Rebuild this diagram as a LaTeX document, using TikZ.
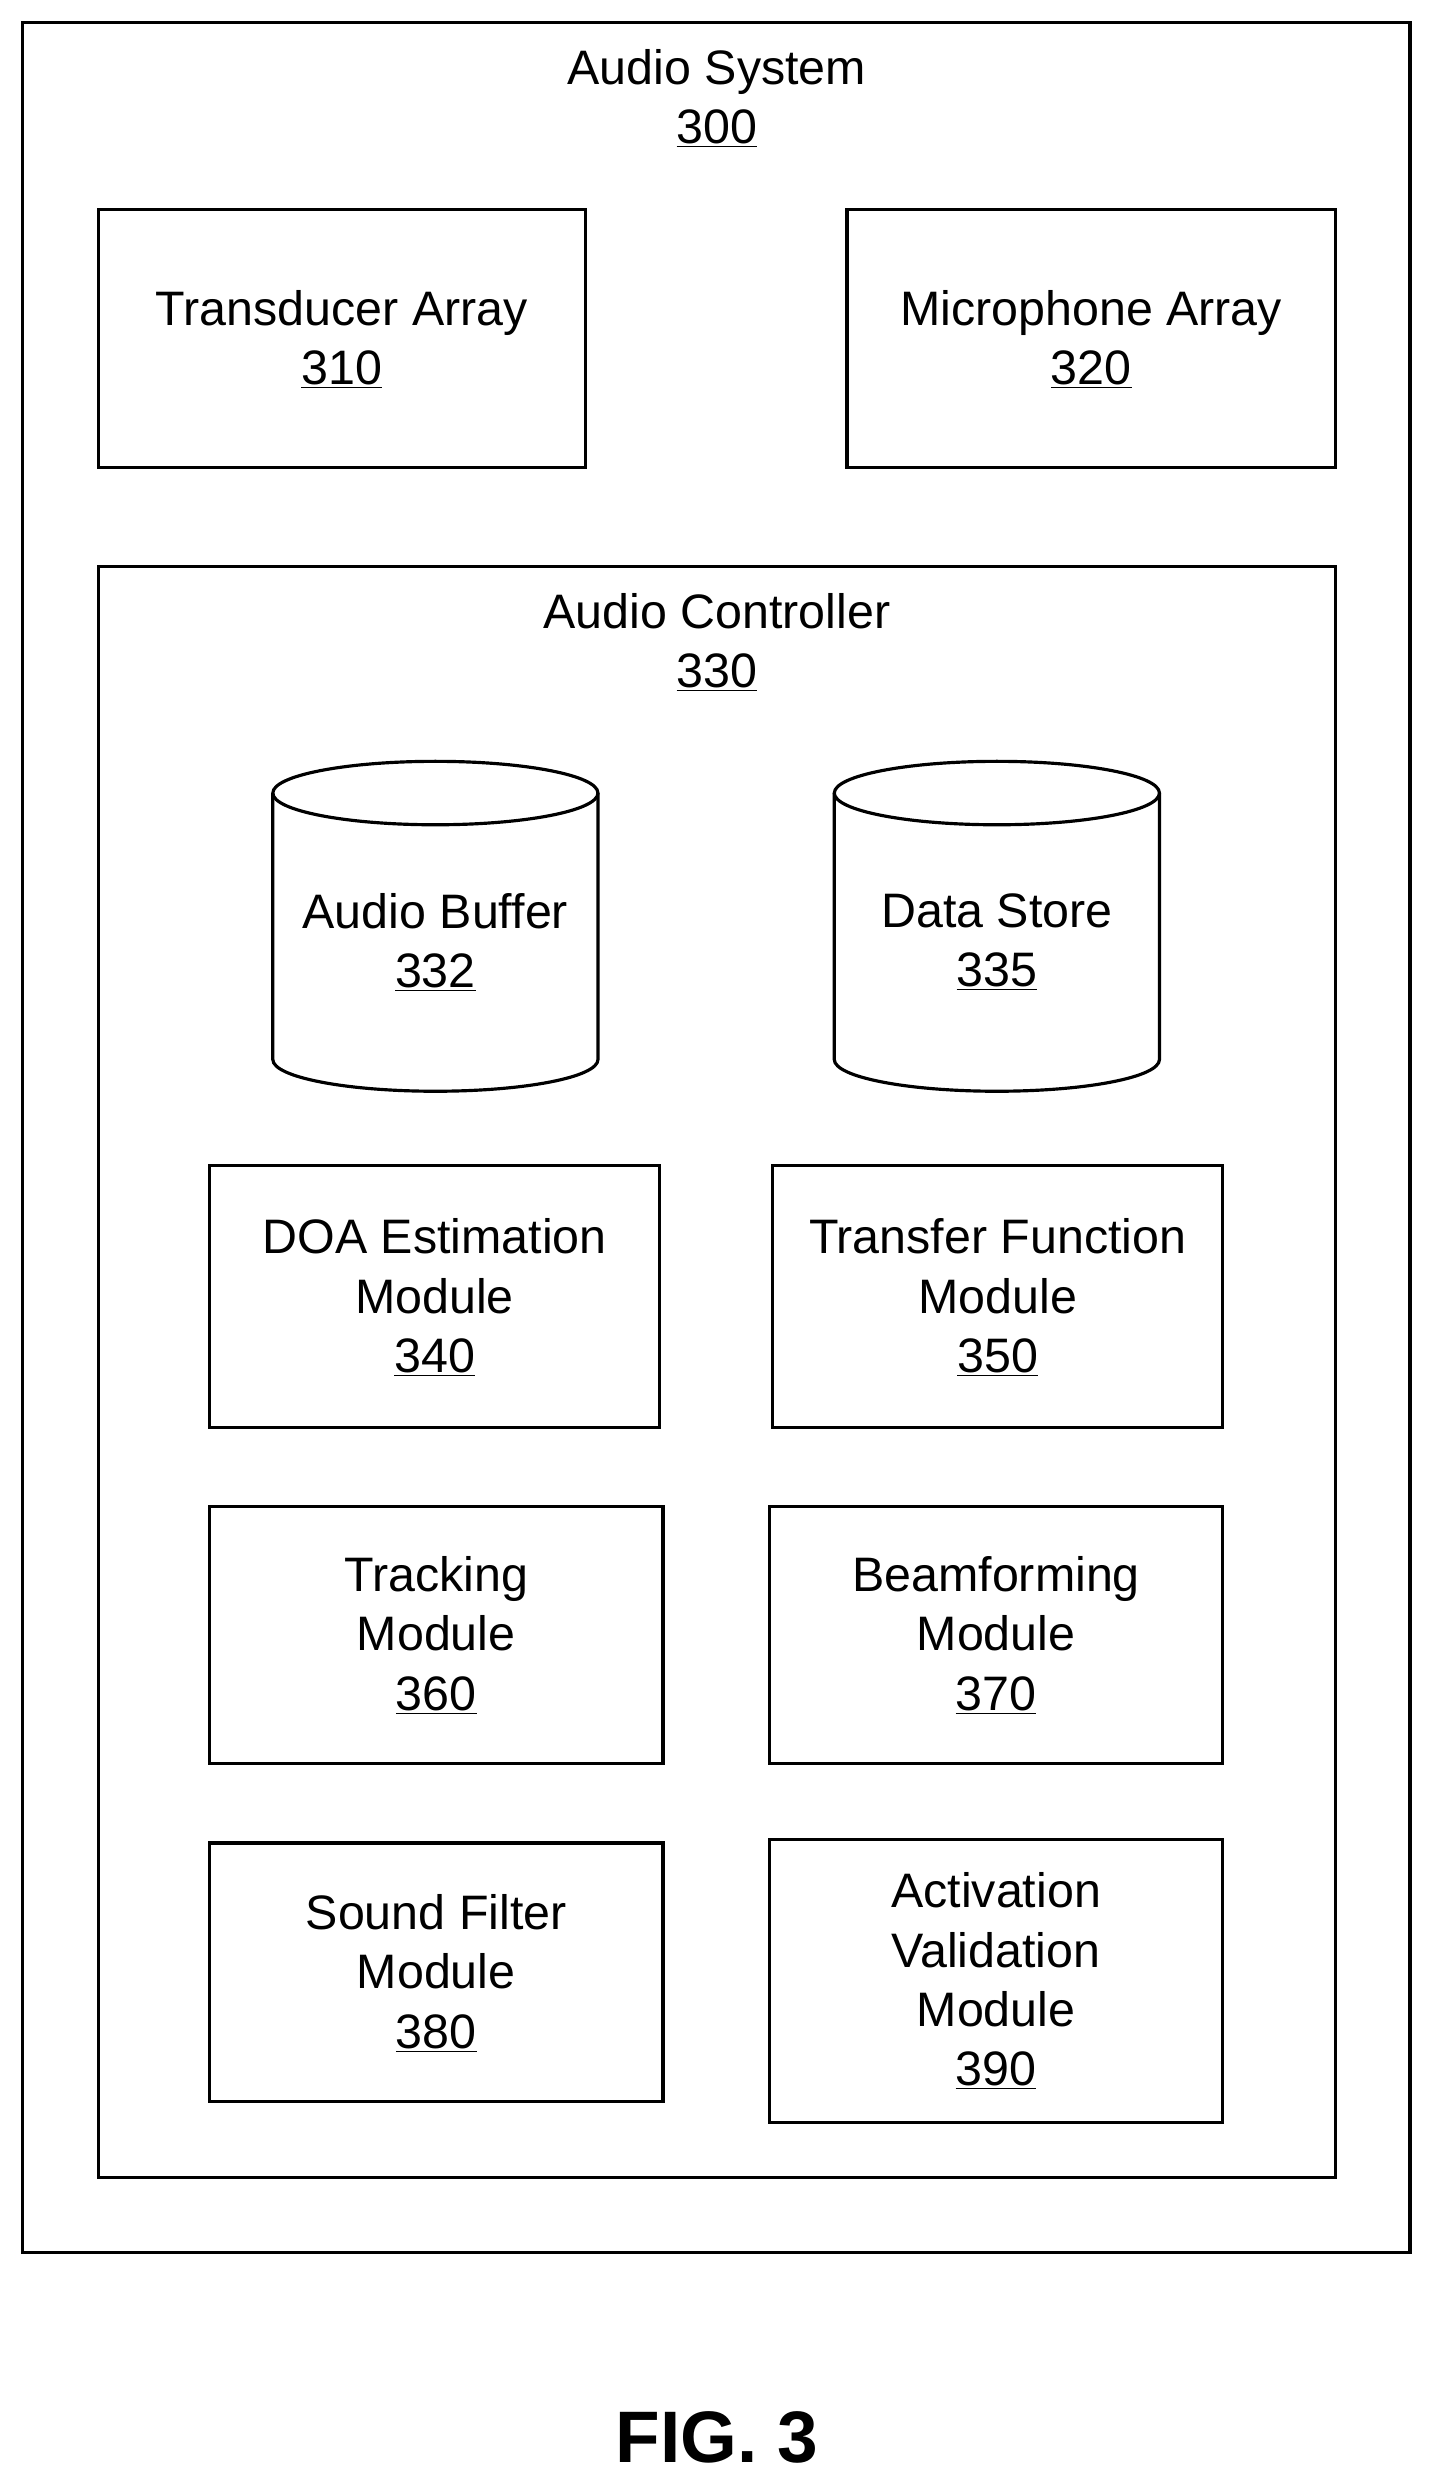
\documentclass[tikz,border=0pt]{standalone}
\usepackage{fontspec}
\setmainfont{Liberation Sans}
\begin{document}
\begin{tikzpicture}[x=1pt,y=-1pt,line width=2pt,
  lbl/.style={font=\fontsize{30.5}{37.5}\selectfont,align=center,inner sep=0}]
\useasboundingbox (0,0) rectangle (903,1568);
\draw (14,14) rectangle (889,1420);
\node[lbl] (t300) at (452,62) {Audio System\\\underline{300}};
\draw (62,132) rectangle (369,295);
\node[lbl] (t310) at (215.5,214) {Transducer Array\\\underline{310}};
\draw (534,132) rectangle (842,295);
\node[lbl] (t320) at (688,214) {Microphone Array\\\underline{320}};
\draw (62,357) rectangle (842,1373);
\node[lbl] (t330) at (452,405) {Audio Controller\\\underline{330}};
\foreach \cx in {274.5,628.5}{
  \draw (\cx,500) ellipse [x radius=102.5pt,y radius=20pt];
  \draw (\cx-102.5,500) -- (\cx-102.5,668) arc[start angle=180,end angle=360,x radius=102.5pt,y radius=20pt] -- (\cx+102.5,500);
}
\node[lbl] (t332) at (274.5,594) {Audio Buffer\\\underline{332}};
\node[lbl] (t335) at (628.5,594) {Data Store\\\underline{335}};
\draw (132,735) rectangle (416,900);
\node[lbl] (t340) at (274,818) {DOA Estimation\\Module\\\underline{340}};
\draw (487,735) rectangle (771,900);
\node[lbl] (t350) at (629,818) {Transfer Function\\Module\\\underline{350}};
\draw (132,950) rectangle (418,1112);
\node[lbl] (t360) at (275,1031) {Tracking\\Module\\\underline{360}};
\draw (485,950) rectangle (771,1112);
\node[lbl] (t370) at (628,1031) {Beamforming\\Module\\\underline{370}};
\draw (132,1162) rectangle (418,1325);
\node[lbl] (t380) at (275,1244) {Sound Filter\\Module\\\underline{380}};
\draw (485,1160) rectangle (771,1338);
\node[lbl] (t390) at (628,1249) {Activation\\Validation\\Module\\\underline{390}};
\node[font=\fontsize{46}{50}\selectfont\bfseries,inner sep=0] (fig) at (452,1537) {FIG. 3};
\end{tikzpicture}
\end{document}
